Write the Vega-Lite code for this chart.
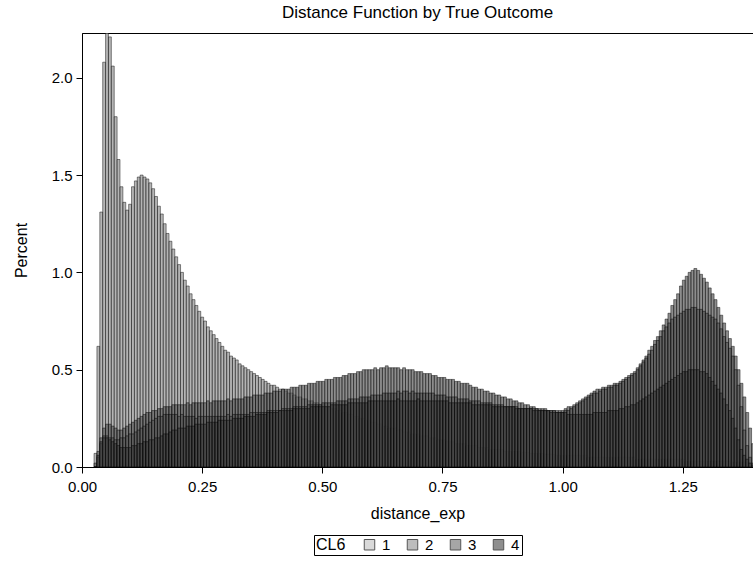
{
"$schema":"https://vega.github.io/schema/vega-lite/v6.json",
"width":671,"height":434,
"autosize":{"type":"none"},
"padding":{"left":82,"top":33,"right":0,"bottom":96},
"title":{"text":"Distance Function by True Outcome","fontSize":17,"fontWeight":"normal","font":"Liberation Sans","color":"#000","offset":11},
"data":{"values":[
{"x":0.027,"1":0.07,"2":0.02,"3":0,"4":0},
{"x":0.033,"1":0.62,"2":0.08,"3":0.05,"4":0.06},
{"x":0.039,"1":1.31,"2":0.15,"3":0.12,"4":0.13},
{"x":0.045,"1":2.08,"2":0.20,"3":0.16,"4":0.15},
{"x":0.051,"1":2.23,"2":0.22,"3":0.16,"4":0.15},
{"x":0.057,"1":2.21,"2":0.22,"3":0.15,"4":0.14},
{"x":0.063,"1":2.06,"2":0.21,"3":0.15,"4":0.13},
{"x":0.069,"1":1.80,"2":0.20,"3":0.14,"4":0.12},
{"x":0.075,"1":1.58,"2":0.19,"3":0.14,"4":0.11},
{"x":0.081,"1":1.44,"2":0.19,"3":0.15,"4":0.10},
{"x":0.087,"1":1.36,"2":0.20,"3":0.15,"4":0.10},
{"x":0.093,"1":1.32,"2":0.21,"3":0.16,"4":0.10},
{"x":0.099,"1":1.35,"2":0.22,"3":0.17,"4":0.10},
{"x":0.105,"1":1.44,"2":0.23,"3":0.17,"4":0.11},
{"x":0.111,"1":1.47,"2":0.24,"3":0.18,"4":0.11},
{"x":0.117,"1":1.49,"2":0.25,"3":0.19,"4":0.12},
{"x":0.123,"1":1.50,"2":0.26,"3":0.20,"4":0.12},
{"x":0.129,"1":1.49,"2":0.27,"3":0.21,"4":0.13},
{"x":0.135,"1":1.48,"2":0.28,"3":0.22,"4":0.13},
{"x":0.141,"1":1.46,"2":0.28,"3":0.23,"4":0.14},
{"x":0.147,"1":1.43,"2":0.29,"3":0.24,"4":0.14},
{"x":0.153,"1":1.39,"2":0.29,"3":0.25,"4":0.15},
{"x":0.159,"1":1.34,"2":0.30,"3":0.26,"4":0.15},
{"x":0.165,"1":1.30,"2":0.30,"3":0.26,"4":0.16},
{"x":0.171,"1":1.25,"2":0.31,"3":0.27,"4":0.17},
{"x":0.177,"1":1.20,"2":0.31,"3":0.27,"4":0.17},
{"x":0.183,"1":1.16,"2":0.31,"3":0.27,"4":0.18},
{"x":0.189,"1":1.12,"2":0.32,"3":0.27,"4":0.19},
{"x":0.195,"1":1.08,"2":0.32,"3":0.27,"4":0.19},
{"x":0.201,"1":1.04,"2":0.32,"3":0.26,"4":0.20},
{"x":0.207,"1":1.00,"2":0.32,"3":0.27,"4":0.20},
{"x":0.213,"1":0.96,"2":0.32,"3":0.26,"4":0.20},
{"x":0.219,"1":0.93,"2":0.33,"3":0.26,"4":0.21},
{"x":0.225,"1":0.89,"2":0.32,"3":0.26,"4":0.21},
{"x":0.231,"1":0.86,"2":0.33,"3":0.26,"4":0.21},
{"x":0.237,"1":0.83,"2":0.33,"3":0.25,"4":0.22},
{"x":0.243,"1":0.80,"2":0.33,"3":0.26,"4":0.22},
{"x":0.249,"1":0.77,"2":0.33,"3":0.26,"4":0.22},
{"x":0.255,"1":0.75,"2":0.33,"3":0.26,"4":0.22},
{"x":0.261,"1":0.72,"2":0.34,"3":0.26,"4":0.23},
{"x":0.267,"1":0.70,"2":0.33,"3":0.26,"4":0.23},
{"x":0.273,"1":0.68,"2":0.34,"3":0.26,"4":0.23},
{"x":0.279,"1":0.66,"2":0.34,"3":0.26,"4":0.23},
{"x":0.285,"1":0.64,"2":0.34,"3":0.26,"4":0.24},
{"x":0.291,"1":0.62,"2":0.34,"3":0.26,"4":0.24},
{"x":0.297,"1":0.60,"2":0.34,"3":0.26,"4":0.24},
{"x":0.303,"1":0.59,"2":0.35,"3":0.27,"4":0.24},
{"x":0.309,"1":0.57,"2":0.34,"3":0.26,"4":0.24},
{"x":0.315,"1":0.56,"2":0.35,"3":0.27,"4":0.25},
{"x":0.321,"1":0.55,"2":0.35,"3":0.27,"4":0.25},
{"x":0.327,"1":0.53,"2":0.35,"3":0.27,"4":0.25},
{"x":0.333,"1":0.52,"2":0.35,"3":0.27,"4":0.25},
{"x":0.339,"1":0.51,"2":0.36,"3":0.27,"4":0.26},
{"x":0.345,"1":0.50,"2":0.36,"3":0.27,"4":0.26},
{"x":0.351,"1":0.49,"2":0.36,"3":0.28,"4":0.26},
{"x":0.357,"1":0.48,"2":0.37,"3":0.28,"4":0.26},
{"x":0.363,"1":0.47,"2":0.37,"3":0.28,"4":0.27},
{"x":0.369,"1":0.46,"2":0.37,"3":0.28,"4":0.27},
{"x":0.375,"1":0.45,"2":0.37,"3":0.28,"4":0.27},
{"x":0.381,"1":0.44,"2":0.38,"3":0.28,"4":0.27},
{"x":0.387,"1":0.43,"2":0.38,"3":0.29,"4":0.28},
{"x":0.393,"1":0.42,"2":0.38,"3":0.29,"4":0.28},
{"x":0.399,"1":0.42,"2":0.39,"3":0.29,"4":0.28},
{"x":0.405,"1":0.41,"2":0.39,"3":0.29,"4":0.28},
{"x":0.411,"1":0.40,"2":0.39,"3":0.29,"4":0.29},
{"x":0.417,"1":0.40,"2":0.40,"3":0.30,"4":0.29},
{"x":0.423,"1":0.39,"2":0.40,"3":0.30,"4":0.29},
{"x":0.429,"1":0.38,"2":0.40,"3":0.30,"4":0.29},
{"x":0.435,"1":0.38,"2":0.41,"3":0.30,"4":0.29},
{"x":0.441,"1":0.37,"2":0.41,"3":0.31,"4":0.30},
{"x":0.447,"1":0.36,"2":0.41,"3":0.31,"4":0.30},
{"x":0.453,"1":0.36,"2":0.42,"3":0.31,"4":0.30},
{"x":0.459,"1":0.35,"2":0.42,"3":0.31,"4":0.30},
{"x":0.465,"1":0.35,"2":0.42,"3":0.31,"4":0.30},
{"x":0.471,"1":0.34,"2":0.43,"3":0.32,"4":0.30},
{"x":0.477,"1":0.34,"2":0.43,"3":0.32,"4":0.31},
{"x":0.483,"1":0.33,"2":0.43,"3":0.32,"4":0.31},
{"x":0.489,"1":0.33,"2":0.44,"3":0.32,"4":0.31},
{"x":0.495,"1":0.32,"2":0.44,"3":0.32,"4":0.31},
{"x":0.501,"1":0.32,"2":0.44,"3":0.33,"4":0.31},
{"x":0.507,"1":0.31,"2":0.45,"3":0.33,"4":0.31},
{"x":0.513,"1":0.31,"2":0.45,"3":0.33,"4":0.31},
{"x":0.519,"1":0.30,"2":0.45,"3":0.33,"4":0.32},
{"x":0.525,"1":0.30,"2":0.46,"3":0.33,"4":0.32},
{"x":0.531,"1":0.29,"2":0.46,"3":0.34,"4":0.32},
{"x":0.537,"1":0.29,"2":0.46,"3":0.34,"4":0.32},
{"x":0.543,"1":0.28,"2":0.47,"3":0.34,"4":0.32},
{"x":0.549,"1":0.28,"2":0.47,"3":0.34,"4":0.32},
{"x":0.555,"1":0.27,"2":0.48,"3":0.35,"4":0.33},
{"x":0.561,"1":0.27,"2":0.48,"3":0.35,"4":0.33},
{"x":0.567,"1":0.26,"2":0.48,"3":0.35,"4":0.33},
{"x":0.573,"1":0.26,"2":0.49,"3":0.35,"4":0.33},
{"x":0.579,"1":0.25,"2":0.49,"3":0.36,"4":0.33},
{"x":0.585,"1":0.25,"2":0.50,"3":0.36,"4":0.33},
{"x":0.591,"1":0.24,"2":0.50,"3":0.36,"4":0.33},
{"x":0.597,"1":0.24,"2":0.50,"3":0.36,"4":0.34},
{"x":0.603,"1":0.23,"2":0.50,"3":0.37,"4":0.34},
{"x":0.609,"1":0.23,"2":0.51,"3":0.37,"4":0.34},
{"x":0.615,"1":0.22,"2":0.50,"3":0.37,"4":0.34},
{"x":0.621,"1":0.22,"2":0.51,"3":0.37,"4":0.34},
{"x":0.627,"1":0.21,"2":0.51,"3":0.38,"4":0.34},
{"x":0.633,"1":0.21,"2":0.52,"3":0.38,"4":0.34},
{"x":0.639,"1":0.20,"2":0.51,"3":0.38,"4":0.34},
{"x":0.645,"1":0.20,"2":0.51,"3":0.38,"4":0.34},
{"x":0.651,"1":0.20,"2":0.51,"3":0.38,"4":0.34},
{"x":0.657,"1":0.19,"2":0.51,"3":0.39,"4":0.35},
{"x":0.663,"1":0.19,"2":0.50,"3":0.38,"4":0.34},
{"x":0.669,"1":0.18,"2":0.51,"3":0.39,"4":0.34},
{"x":0.675,"1":0.18,"2":0.50,"3":0.39,"4":0.34},
{"x":0.681,"1":0.18,"2":0.50,"3":0.38,"4":0.34},
{"x":0.687,"1":0.17,"2":0.50,"3":0.39,"4":0.34},
{"x":0.693,"1":0.17,"2":0.49,"3":0.38,"4":0.34},
{"x":0.699,"1":0.17,"2":0.49,"3":0.38,"4":0.35},
{"x":0.705,"1":0.16,"2":0.49,"3":0.38,"4":0.34},
{"x":0.711,"1":0.16,"2":0.48,"3":0.38,"4":0.34},
{"x":0.717,"1":0.16,"2":0.48,"3":0.38,"4":0.34},
{"x":0.723,"1":0.15,"2":0.48,"3":0.38,"4":0.34},
{"x":0.729,"1":0.15,"2":0.47,"3":0.38,"4":0.34},
{"x":0.735,"1":0.15,"2":0.47,"3":0.37,"4":0.34},
{"x":0.741,"1":0.14,"2":0.46,"3":0.37,"4":0.34},
{"x":0.747,"1":0.14,"2":0.46,"3":0.37,"4":0.34},
{"x":0.753,"1":0.14,"2":0.46,"3":0.37,"4":0.34},
{"x":0.759,"1":0.13,"2":0.45,"3":0.36,"4":0.34},
{"x":0.765,"1":0.13,"2":0.45,"3":0.36,"4":0.33},
{"x":0.771,"1":0.13,"2":0.45,"3":0.36,"4":0.33},
{"x":0.777,"1":0.12,"2":0.44,"3":0.36,"4":0.33},
{"x":0.783,"1":0.12,"2":0.44,"3":0.35,"4":0.33},
{"x":0.789,"1":0.12,"2":0.43,"3":0.35,"4":0.33},
{"x":0.795,"1":0.12,"2":0.43,"3":0.35,"4":0.33},
{"x":0.801,"1":0.11,"2":0.43,"3":0.35,"4":0.33},
{"x":0.807,"1":0.11,"2":0.42,"3":0.34,"4":0.33},
{"x":0.813,"1":0.11,"2":0.41,"3":0.34,"4":0.32},
{"x":0.819,"1":0.11,"2":0.41,"3":0.34,"4":0.32},
{"x":0.825,"1":0.10,"2":0.40,"3":0.34,"4":0.32},
{"x":0.831,"1":0.10,"2":0.40,"3":0.33,"4":0.32},
{"x":0.837,"1":0.10,"2":0.39,"3":0.33,"4":0.32},
{"x":0.843,"1":0.10,"2":0.39,"3":0.33,"4":0.32},
{"x":0.849,"1":0.09,"2":0.38,"3":0.33,"4":0.32},
{"x":0.855,"1":0.09,"2":0.38,"3":0.32,"4":0.31},
{"x":0.861,"1":0.09,"2":0.37,"3":0.32,"4":0.31},
{"x":0.867,"1":0.09,"2":0.37,"3":0.32,"4":0.31},
{"x":0.873,"1":0.09,"2":0.36,"3":0.32,"4":0.31},
{"x":0.879,"1":0.08,"2":0.36,"3":0.31,"4":0.31},
{"x":0.885,"1":0.08,"2":0.35,"3":0.31,"4":0.31},
{"x":0.891,"1":0.08,"2":0.35,"3":0.31,"4":0.31},
{"x":0.897,"1":0.08,"2":0.34,"3":0.31,"4":0.31},
{"x":0.903,"1":0.08,"2":0.34,"3":0.31,"4":0.30},
{"x":0.909,"1":0.08,"2":0.33,"3":0.30,"4":0.30},
{"x":0.915,"1":0.075,"2":0.33,"3":0.30,"4":0.30},
{"x":0.921,"1":0.075,"2":0.32,"3":0.30,"4":0.30},
{"x":0.927,"1":0.075,"2":0.32,"3":0.30,"4":0.30},
{"x":0.933,"1":0.07,"2":0.31,"3":0.30,"4":0.30},
{"x":0.939,"1":0.07,"2":0.31,"3":0.30,"4":0.29},
{"x":0.945,"1":0.07,"2":0.30,"3":0.30,"4":0.29},
{"x":0.951,"1":0.07,"2":0.30,"3":0.29,"4":0.29},
{"x":0.957,"1":0.07,"2":0.30,"3":0.29,"4":0.29},
{"x":0.963,"1":0.065,"2":0.30,"3":0.29,"4":0.29},
{"x":0.969,"1":0.065,"2":0.29,"3":0.29,"4":0.29},
{"x":0.975,"1":0.065,"2":0.29,"3":0.29,"4":0.28},
{"x":0.981,"1":0.065,"2":0.29,"3":0.29,"4":0.28},
{"x":0.987,"1":0.06,"2":0.29,"3":0.28,"4":0.28},
{"x":0.993,"1":0.06,"2":0.29,"3":0.28,"4":0.28},
{"x":0.999,"1":0.06,"2":0.29,"3":0.28,"4":0.28},
{"x":1.005,"1":0.06,"2":0.30,"3":0.29,"4":0.28},
{"x":1.011,"1":0.06,"2":0.31,"3":0.29,"4":0.27},
{"x":1.017,"1":0.06,"2":0.31,"3":0.30,"4":0.27},
{"x":1.023,"1":0.06,"2":0.32,"3":0.31,"4":0.27},
{"x":1.029,"1":0.06,"2":0.33,"3":0.32,"4":0.27},
{"x":1.035,"1":0.06,"2":0.34,"3":0.33,"4":0.27},
{"x":1.041,"1":0.06,"2":0.35,"3":0.34,"4":0.27},
{"x":1.047,"1":0.06,"2":0.36,"3":0.35,"4":0.27},
{"x":1.053,"1":0.05,"2":0.37,"3":0.36,"4":0.27},
{"x":1.059,"1":0.05,"2":0.38,"3":0.37,"4":0.27},
{"x":1.065,"1":0.05,"2":0.39,"3":0.38,"4":0.28},
{"x":1.071,"1":0.05,"2":0.40,"3":0.38,"4":0.28},
{"x":1.077,"1":0.05,"2":0.40,"3":0.39,"4":0.28},
{"x":1.083,"1":0.05,"2":0.41,"3":0.40,"4":0.28},
{"x":1.089,"1":0.05,"2":0.41,"3":0.40,"4":0.28},
{"x":1.095,"1":0.05,"2":0.42,"3":0.41,"4":0.29},
{"x":1.101,"1":0.05,"2":0.42,"3":0.41,"4":0.29},
{"x":1.107,"1":0.05,"2":0.43,"3":0.42,"4":0.29},
{"x":1.113,"1":0.05,"2":0.43,"3":0.42,"4":0.29},
{"x":1.119,"1":0.05,"2":0.44,"3":0.43,"4":0.30},
{"x":1.125,"1":0.05,"2":0.45,"3":0.44,"4":0.30},
{"x":1.131,"1":0.05,"2":0.46,"3":0.45,"4":0.31},
{"x":1.137,"1":0.05,"2":0.47,"3":0.46,"4":0.31},
{"x":1.143,"1":0.05,"2":0.48,"3":0.47,"4":0.32},
{"x":1.149,"1":0.05,"2":0.49,"3":0.48,"4":0.32},
{"x":1.155,"1":0.04,"2":0.51,"3":0.50,"4":0.33},
{"x":1.161,"1":0.04,"2":0.53,"3":0.52,"4":0.34},
{"x":1.167,"1":0.04,"2":0.55,"3":0.54,"4":0.35},
{"x":1.173,"1":0.04,"2":0.57,"3":0.56,"4":0.36},
{"x":1.179,"1":0.04,"2":0.60,"3":0.58,"4":0.37},
{"x":1.185,"1":0.04,"2":0.62,"3":0.60,"4":0.38},
{"x":1.191,"1":0.04,"2":0.65,"3":0.63,"4":0.39},
{"x":1.197,"1":0.04,"2":0.67,"3":0.65,"4":0.40},
{"x":1.203,"1":0.04,"2":0.70,"3":0.67,"4":0.41},
{"x":1.209,"1":0.04,"2":0.73,"3":0.70,"4":0.42},
{"x":1.215,"1":0.04,"2":0.76,"3":0.72,"4":0.43},
{"x":1.221,"1":0.04,"2":0.79,"3":0.74,"4":0.44},
{"x":1.227,"1":0.04,"2":0.83,"3":0.76,"4":0.45},
{"x":1.233,"1":0.04,"2":0.86,"3":0.77,"4":0.46},
{"x":1.239,"1":0.04,"2":0.89,"3":0.78,"4":0.47},
{"x":1.245,"1":0.04,"2":0.93,"3":0.79,"4":0.48},
{"x":1.251,"1":0.04,"2":0.96,"3":0.80,"4":0.49},
{"x":1.257,"1":0.03,"2":0.98,"3":0.81,"4":0.49},
{"x":1.263,"1":0.03,"2":1.00,"3":0.81,"4":0.50},
{"x":1.269,"1":0.03,"2":1.01,"3":0.82,"4":0.50},
{"x":1.275,"1":0.03,"2":1.02,"3":0.82,"4":0.50},
{"x":1.281,"1":0.03,"2":1.01,"3":0.81,"4":0.50},
{"x":1.287,"1":0.03,"2":0.99,"3":0.81,"4":0.49},
{"x":1.293,"1":0.03,"2":0.97,"3":0.80,"4":0.49},
{"x":1.299,"1":0.03,"2":0.95,"3":0.79,"4":0.48},
{"x":1.305,"1":0.03,"2":0.92,"3":0.78,"4":0.46},
{"x":1.311,"1":0.03,"2":0.89,"3":0.77,"4":0.44},
{"x":1.317,"1":0.03,"2":0.86,"3":0.76,"4":0.42},
{"x":1.323,"1":0.03,"2":0.82,"3":0.74,"4":0.40},
{"x":1.329,"1":0.03,"2":0.78,"3":0.71,"4":0.38},
{"x":1.335,"1":0.03,"2":0.74,"3":0.67,"4":0.35},
{"x":1.341,"1":0.03,"2":0.70,"3":0.64,"4":0.32},
{"x":1.347,"1":0.03,"2":0.66,"3":0.61,"4":0.29},
{"x":1.353,"1":0.025,"2":0.62,"3":0.57,"4":0.25},
{"x":1.359,"1":0.025,"2":0.57,"3":0.50,"4":0.20},
{"x":1.365,"1":0.025,"2":0.50,"3":0.42,"4":0.14},
{"x":1.371,"1":0.025,"2":0.43,"3":0.31,"4":0.09},
{"x":1.377,"1":0.025,"2":0.36,"3":0.19,"4":0.06},
{"x":1.383,"1":0.025,"2":0.28,"3":0.11,"4":0.04},
{"x":1.389,"1":0.02,"2":0.20,"3":0.05,"4":0.02},
{"x":1.395,"1":0.015,"2":0.12,"3":0.02,"4":0.01}
]},
"transform":[{"fold":["1","2","3","4"],"as":["CL6","Percent"]}],
"encoding":{
"x":{"field":"x","type":"quantitative","bin":{"step":0.006,"extent":[0,1.404]},"scale":{"domain":[0,1.396]},"axis":{"values":[0,0.25,0.5,0.75,1,1.25],"format":".2f","title":"distance_exp","tickSize":6,"labelPadding":6,"titlePadding":11,"labelFlush":false}},
"y":{"field":"Percent","type":"quantitative","stack":null,"scale":{"domain":[0,2.23],"nice":false},"axis":{"values":[0,0.5,1,1.5,2],"format":".1f","title":"Percent","tickSize":6,"labelPadding":4,"titlePadding":22}}
},
"layer":[
{"mark":{"type":"bar","binSpacing":0,"fillOpacity":0.7,"stroke":"#000","strokeOpacity":0.45,"strokeWidth":1,"clip":true},
"encoding":{"color":{"field":"CL6","type":"nominal","scale":{"domain":["1","2","3","4"],"range":["#969696","#5c5c5c","#545454","#3c3c3c"]},"legend":null}}},
{"mark":{"type":"bar","binSpacing":0,"opacity":0,"clip":true},
"encoding":{"color":{"field":"CL6","type":"nominal","scale":{"domain":["1","2","3","4"],"range":["#d9d9d9","#bdbdbd","#a6a6a6","#8e8e8e"]},
"legend":{"title":"CL6","orient":"bottom","direction":"horizontal","titleOrient":"left","symbolType":"square","symbolSize":110,"symbolOpacity":1,"symbolStrokeColor":"#555","symbolStrokeWidth":1,"labelFontSize":15,"titleFontSize":16,"titleFontWeight":"normal","titleColor":"#000","labelColor":"#000","titleFont":"Liberation Sans","labelFont":"Liberation Sans","strokeColor":"#000","padding":2,"offset":14,"columnPadding":14,"titlePadding":16,"labelOffset":5}}}}
],
"resolve":{"scale":{"color":"independent"}},
"config":{
"view":{"stroke":"#000","strokeWidth":1},
"legend":{"layout":{"bottom":{"anchor":"middle"}}},
"axis":{"grid":false,"domainColor":"#000","tickColor":"#000","labelColor":"#000","titleColor":"#000","labelFont":"Liberation Sans","titleFont":"Liberation Sans","labelFontSize":15,"titleFontSize":16,"titleFontWeight":"normal"}
}
}
